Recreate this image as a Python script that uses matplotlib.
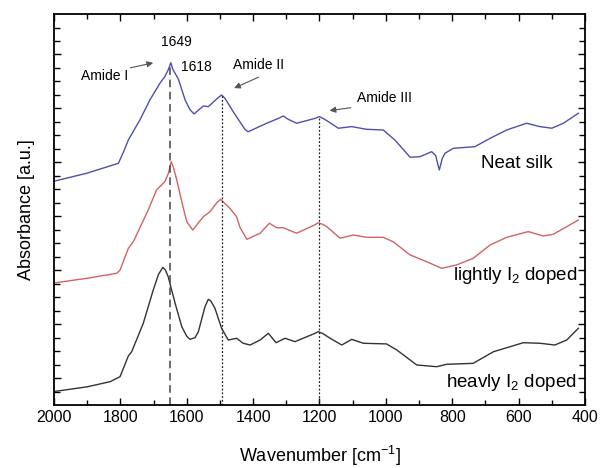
import numpy as np
import matplotlib
matplotlib.use('Agg')
import matplotlib.pyplot as plt

plt.rcParams['font.family'] = ['Liberation Sans', 'DejaVu Sans']
plt.rcParams['mathtext.default'] = 'regular'

# wavenumber (cm-1) / absorbance (a.u., offset)
neat_wn = [2000, 1900, 1806, 1790, 1776, 1740, 1711, 1680, 1666, 1655, 1648, 1642, 1625, 1605, 1590,
           1578, 1550, 1535, 1510, 1495, 1485, 1460, 1425, 1415, 1359, 1320, 1309, 1295, 1269, 1215,
           1200, 1185, 1143, 1103, 1058, 1008, 973, 927, 897, 862, 850, 839, 830, 822, 797, 732, 686,
           636, 576, 536, 500, 465, 420]
neat_ab = [16.6, 17.2, 17.93, 18.8, 19.66, 21.2, 22.63, 23.9, 24.36, 24.9, 25.39, 24.9, 24.16, 22.63, 21.9,
           21.59, 22.18, 22.13, 22.7, 23.0, 22.75, 21.76, 20.45, 20.27, 20.9, 21.3, 21.44, 21.2, 20.9, 21.25,
           21.39, 21.2, 20.53, 20.65, 20.45, 20.4, 19.66, 18.38, 18.42, 18.79, 18.5, 17.43, 18.3, 18.67,
           19.04, 19.16, 19.78, 20.4, 20.9, 20.65, 20.53, 20.9, 21.64]

light_wn = [2000, 1900, 1811, 1801, 1776, 1761, 1716, 1691, 1666, 1655, 1647, 1640, 1630, 1615, 1600,
            1582, 1550, 1530, 1508, 1498, 1470, 1450, 1440, 1419, 1379, 1351, 1329, 1309, 1269, 1215,
            1204, 1190, 1178, 1138, 1098, 1058, 1008, 978, 927, 877, 832, 787, 737, 686, 636, 571, 526,
            496, 455, 420]
light_ab = [9.05, 9.4, 9.77, 10.01, 11.62, 12.11, 14.47, 15.95, 16.57, 17.2, 18.05, 17.6, 16.69, 15.08, 13.6,
            12.98, 13.97, 14.34, 15.05, 15.26, 14.59, 13.97, 13.2, 12.29, 12.74, 13.48, 13.15, 13.15, 12.74,
            13.35, 13.52, 13.4, 13.23, 12.37, 12.61, 12.44, 12.44, 12.11, 11.13, 10.63, 10.14, 10.39, 10.88,
            11.87, 12.44, 12.86, 12.54, 12.66, 13.23, 13.72]

heavy_wn = [2000, 1900, 1831, 1801, 1776, 1766, 1731, 1701, 1685, 1672, 1664, 1656, 1635, 1615, 1600,
            1590, 1575, 1565, 1545, 1535, 1527, 1515, 1495, 1475, 1450, 1430, 1409, 1379, 1354, 1331,
            1304, 1274, 1215, 1204, 1190, 1168, 1133, 1103, 1068, 998, 967, 907, 847, 817, 737, 676,
            586, 536, 491, 455, 420]
heavy_ab = [1.0, 1.35, 1.73, 2.1, 3.64, 3.95, 6.06, 8.53, 9.7, 10.21, 10.0, 9.52, 7.54, 5.81, 5.1,
            4.87, 5.0, 5.44, 7.3, 7.84, 7.7, 7.17, 5.69, 4.82, 4.95, 4.58, 4.45, 4.82, 5.32, 4.62,
            4.95, 4.7, 5.3, 5.44, 5.3, 4.95, 4.45, 4.87, 4.58, 4.53, 4.08, 2.97, 2.84, 3.02, 3.09,
            3.95, 4.62, 4.58, 4.45, 4.82, 5.69]

fig = plt.figure(figsize=(6, 4.68), dpi=100)
ax = fig.add_axes([0.09, 0.1346, 0.885, 0.8354])

ax.plot(neat_wn, neat_ab, color='#4f4fae', lw=1.0, solid_joinstyle='round')
ax.plot(light_wn, light_ab, color='#d06464', lw=1.0, solid_joinstyle='round')
ax.plot(heavy_wn, heavy_ab, color='#333333', lw=1.0, solid_joinstyle='round')

# marker lines
ax.vlines(1649, 0, 25.3, colors='#444444', linestyles=(0, (5, 3)), lw=1.1)
ax.vlines(1495, 0, 23.0, colors='#222222', linestyles=(0, (1.5, 1.5)), lw=0.9)
ax.vlines(1200, 0, 21.4, colors='#222222', linestyles=(0, (1.5, 1.5)), lw=0.9)

arrow = dict(arrowstyle='-|>', color='#555555', lw=0.8, mutation_scale=9)
ax.text(1631, 26.9, '1649', ha='center', va='center', fontsize=10)
ax.text(1617, 25.1, '1618', ha='left', va='center', fontsize=10)
ax.text(1848, 24.4, 'Amide I', ha='center', va='center', fontsize=10)
ax.annotate('', xy=(1693, 25.42), xytext=(1778, 24.97), arrowprops=arrow)
ax.text(1384, 25.2, 'Amide II', ha='center', va='center', fontsize=10)
ax.annotate('', xy=(1465, 23.42), xytext=(1376, 24.4), arrowprops=arrow)
ax.text(1004, 22.75, 'Amide III', ha='center', va='center', fontsize=10)
ax.annotate('', xy=(1178, 21.81), xytext=(1098, 22.08), arrowprops=arrow)

ax.text(605, 17.95, 'Neat silk', ha='center', va='center', fontsize=13.5)
ax.text(424, 9.64, 'lightly I$_2$ doped', ha='right', va='center', fontsize=13.5)
ax.text(424, 1.7, 'heavly I$_2$ doped', ha='right', va='center', fontsize=13.5)

ax.set_xlim(2000, 400)
ax.set_ylim(0, 29)
ax.set_xticks(np.arange(2000, 399, -200))
ax.set_xticks(np.arange(1900, 400, -200), minor=True)
ax.set_yticks(np.arange(2, 29, 4))
ax.set_yticks(np.arange(1, 29, 1), minor=True)
ax.set_yticklabels([])
ax.tick_params(which='both', direction='in', top=True, right=True, width=1.0)
ax.tick_params(which='major', length=5, labelsize=11.5)
ax.tick_params(which='minor', length=3.5)
ax.tick_params(axis='y', which='minor', length=4.5)
for s in ax.spines.values():
    s.set_linewidth(1.3)

ax.set_xlabel('Wavenumber [cm$^{-1}$]', fontsize=13, labelpad=14)
ax.set_ylabel('Absorbance [a.u.]', fontsize=13, labelpad=10)

fig.savefig('out.png', dpi=100)
